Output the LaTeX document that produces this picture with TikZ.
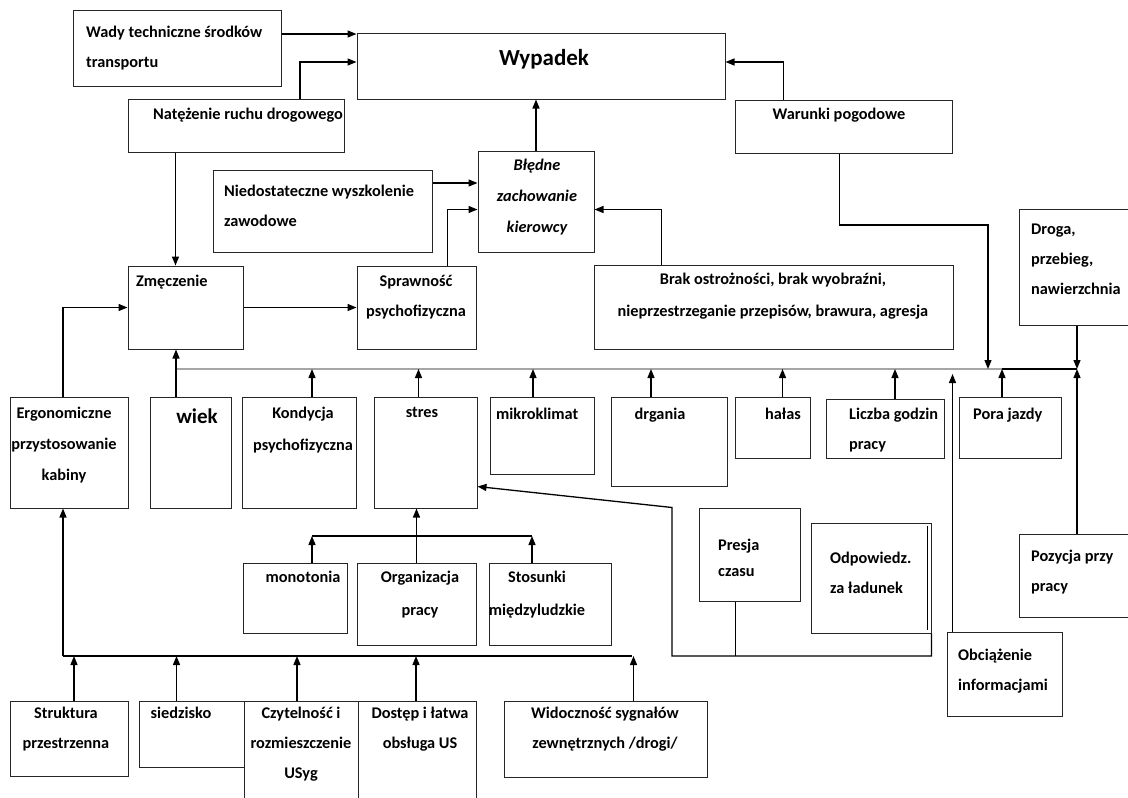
\documentclass[tikz,border=0pt]{standalone}
\usepackage{fontspec}
\setmainfont{Carlito}
\usetikzlibrary{arrows.meta}

\tikzset{
  ->/.style={draw=black,line width=1.3pt,-{Triangle[length=9pt,width=7pt]}},
  box/.style={draw=black!85,line width=1pt},
  bus/.style={draw=black!35,line width=2.2pt},
  link/.style={draw=black,line width=1.1pt}
}
\tikzstyle{every node}=[font=\bfseries\fontsize{16.3}{30}\selectfont,inner sep=0pt]

\begin{document}
\begin{tikzpicture}[x=1pt,y=-1pt]
    \useasboundingbox (0,0) rectangle (1128,798);
    % boxes
    \node[box,minimum width=208pt,minimum height=76pt] (wady) at (177,48) {};
    \node[box,minimum width=368pt,minimum height=66pt] (wypadek) at (541,66) {};
    \node[box,minimum width=216pt,minimum height=53pt] (natez) at (236,125.5) {};
    \node[box,minimum width=217pt,minimum height=53pt] (warunki) at (843.5,126.5) {};
    \node[box,minimum width=219pt,minimum height=82pt] (niedost) at (322.5,211) {};
    \node[box,minimum width=116pt,minimum height=101pt] (bledne) at (536,201.5) {};
    \node[box,minimum width=115pt,minimum height=83pt] (zmecz) at (185.5,307.5) {};
    \node[box,minimum width=119pt,minimum height=83pt] (sprawn) at (416.5,307.5) {};
    \node[box,minimum width=359pt,minimum height=84pt] (brak) at (773.5,307) {};
    \node[box,minimum width=116pt,minimum height=116pt] (droga) at (1077,267) {};
    \node[box,minimum width=118pt,minimum height=111pt] (ergo) at (69,452.5) {};
    \node[box,minimum width=81pt,minimum height=111pt] (wiek) at (190.5,452.5) {};
    \node[box,minimum width=114pt,minimum height=111pt] (kond) at (299,452.5) {};
    \node[box,minimum width=103pt,minimum height=111pt] (stres) at (425.5,452.5) {};
    \node[box,minimum width=104pt,minimum height=77pt] (mikro) at (542,435.5) {};
    \node[box,minimum width=116pt,minimum height=89pt] (drgania) at (669,441.5) {};
    \node[box,minimum width=75pt,minimum height=61pt] (halas) at (772.5,427.5) {};
    \node[box,minimum width=118pt,minimum height=59pt] (liczba) at (885,428.5) {};
    \node[box,minimum width=102pt,minimum height=61pt] (pora) at (1010,427.5) {};
    \node[box,minimum width=101pt,minimum height=93pt] (presja) at (749.5,554.5) {};
    \node[box,minimum width=120pt,minimum height=110pt] (odpow) at (871,578) {};
    \node[box,minimum width=116pt,minimum height=83pt] (pozycja) at (1077,575.5) {};
    \node[box,minimum width=115pt,minimum height=84pt] (obciaz) at (1004.5,674) {};
    \node[box,minimum width=104pt,minimum height=70pt] (monot) at (295,598) {};
    \node[box,minimum width=119pt,minimum height=82pt] (organ) at (416.5,604) {};
    \node[box,minimum width=122pt,minimum height=82pt] (stosun) at (550,604) {};
    \node[box,minimum width=118pt,minimum height=75pt] (strukt) at (69,738.5) {};
    \node[box,minimum width=105pt,minimum height=66pt] (siedz) at (191.5,734) {};
    \node[box,minimum width=114pt,minimum height=109pt] (czyteln) at (301,755.5) {};
    \node[box,minimum width=118pt,minimum height=109pt] (dostep) at (417,755.5) {};
    \node[box,minimum width=203pt,minimum height=76pt] (widocz) at (605.5,739) {};
    \draw[line width=1.4pt] ([xshift=-4pt,yshift=-3pt]odpow.north east) -- ([xshift=-4pt,yshift=4pt]odpow.south east);

    % texts
    \node[anchor=north west,align=left] (wady-t) at (86,26) {Wady techniczne środków\\transportu};
    \node[font=\bfseries\fontsize{23}{28}\selectfont] (wypadek-t) at (544,59) {Wypadek};
    \node[anchor=north] (natez-t) at (248,108) {Natężenie ruchu drogowego};
    \node[anchor=north] (warunki-t) at (839,108) {Warunki pogodowe};
    \node[anchor=north west,align=left] (niedost-t) at (224,185) {Niedostateczne wyszkolenie\\zawodowe};
    \node[anchor=north,align=center,font=\bfseries\itshape\fontsize{16.3}{31}\selectfont] (bledne-t) at (537,159) {Błędne\\zachowanie\\kierowcy};
    \node[anchor=north west] (zmecz-t) at (136,275) {Zmęczenie};
    \node[anchor=north,align=center] (sprawn-t) at (416,275) {Sprawność\\psychofizyczna};
    \node[anchor=north,align=center,font=\bfseries\fontsize{16.3}{32}\selectfont] (brak-t) at (773,273) {Brak ostrożności, brak wyobraźni,\\nieprzestrzeganie przepisów, brawura, agresja};
    \node[anchor=north west,align=left] (droga-t) at (1031,224) {Droga,\\przebieg,\\nawierzchnia};
    \node[anchor=north,align=center,font=\bfseries\fontsize{16.3}{31}\selectfont] (ergo-t) at (64,407) {Ergonomiczne\\przystosowanie\\kabiny};
    \node[anchor=north,font=\bfseries\fontsize{21}{24}\selectfont] (wiek-t) at (197,409) {wiek};
    \node[anchor=north,align=center,font=\bfseries\fontsize{16.3}{32}\selectfont] (kond-t) at (303,407) {Kondycja\\psychofizyczna};
    \node[anchor=north] (stres-t) at (422,407) {stres};
    \node[anchor=north west] (mikro-t) at (496,408) {mikroklimat};
    \node[anchor=north] (drgania-t) at (660,408) {drgania};
    \node[anchor=north] (halas-t) at (783,408) {hałas};
    \node[anchor=north west,align=left] (liczba-t) at (849,408) {Liczba godzin\\pracy};
    \node[anchor=north west] (pora-t) at (973,408) {Pora jazdy};
    \node[anchor=north west,align=left,font=\bfseries\fontsize{16.3}{26}\selectfont] (presja-t) at (718,539) {Presja\\czasu};
    \node[anchor=north west,align=left] (odpow-t) at (830,552) {Odpowiedz.\\za ładunek};
    \node[anchor=north west,align=left] (pozycja-t) at (1031,550) {Pozycja przy\\pracy};
    \node[anchor=north west,align=left] (obciaz-t) at (958,649) {Obciążenie\\informacjami};
    \node[anchor=north] (monot-t) at (303,571) {monotonia};
    \node[anchor=north,align=center,font=\bfseries\fontsize{16.3}{33}\selectfont] (organ-t) at (420,571) {Organizacja\\pracy};
    \node[anchor=north,align=center,font=\bfseries\fontsize{16.3}{33}\selectfont] (stosun-t) at (537,571) {Stosunki\\międzyludzkie};
    \node[anchor=north,align=center] (strukt-t) at (66,707) {Struktura\\przestrzenna};
    \node[anchor=north] (siedz-t) at (181,707) {siedzisko};
    \node[anchor=north,align=center] (czyteln-t) at (301,707) {Czytelność i\\rozmieszczenie\\USyg};
    \node[anchor=north,align=center] (dostep-t) at (420,707) {Dostęp i łatwa\\obsługa US};
    \node[anchor=north,align=center] (widocz-t) at (605,707) {Widoczność sygnałów\\zewnętrznych /drogi/};

    % junction points
    \coordinate (busL) at (176,369);
    \coordinate (busR) at (1002,369);
    \coordinate (busE) at (1077,369);
    \coordinate (wbend) at (988,225);
    \coordinate (brk) at (312,536);
    \coordinate (pbus) at (672,656);
    \coordinate (bbus) at (63,656);
    \coordinate (bbusR) at (632,656);

    % upper part
    \draw [->] ([yshift=14pt]wady.east) -- ([yshift=14pt]wady.east -| wypadek.west);
    \draw [->] ([xshift=64pt]natez.north) |- ([yshift=4pt]wypadek.west);
    \draw [->] ([xshift=-60pt]warunki.north) |- ([yshift=4pt]wypadek.east);
    \draw [->] (bledne.north) -- (bledne.north |- wypadek.south);
    \draw [->] ([yshift=28pt]niedost.east) -- ([yshift=28pt]niedost.east -| bledne.west);
    \draw [->] ([xshift=31pt]sprawn.north) |- ([yshift=-8pt]bledne.west);
    \draw [->] ([xshift=-112pt]brak.north) |- ([yshift=-8pt]bledne.east);
    \draw [->] ([xshift=48pt]natez.south west) -- ([xshift=48pt]zmecz.north west);
    \draw [->] (zmecz.east) -- (sprawn.west);
    \draw [->] ([xshift=-6pt]ergo.north) |- (zmecz.west);

    % factor bus
    \draw [bus] (busL) -- (busR);
    \draw [link] (busR) -- (busE);
    \draw [->] (wiek.north -| busL) -- (zmecz.south -| busL);
    \foreach \b/\dx in {kond/13,stres/-7,mikro/-9,drgania/-18,halas/10,liczba/10,pora/-8}
        \draw [->] ([xshift=\dx pt]\b.north) -- ([xshift=\dx pt]\b.north |- busL);
    \draw [->] ([xshift=-4pt]warunki.south) |- (wbend) -- (wbend |- busL);
    \draw [->] (droga.south) -- (busE);
    \draw [->] (pozycja.north) -- (busE);
    \draw [->,shorten >=5pt] ([xshift=-52pt]obciaz.north) -- ([xshift=-52pt]obciaz.north |- busL);

    % stres
    \draw [->] (organ.north) -- (organ.north |- stres.south);
    \draw [link] (brk) -- ([xshift=-18pt]stosun.north |- brk);
    \draw [->] ([xshift=17pt]monot.north) -- (brk);
    \draw [->] ([xshift=-18pt]stosun.north) -- ([xshift=-18pt]stosun.north |- brk);
    \draw [->] (odpow.south east) |- (pbus) -- (pbus |- presja.north) -- ([yshift=-34pt]stres.east);
    \draw [link] ([xshift=-14pt]presja.south) -- ([xshift=-14pt]presja.south |- pbus);

    % cabin
    \draw [link] (bbus) -- (bbusR);
    \draw [->] (bbus) -- (bbus |- ergo.south);
    \foreach \b/\dx in {strukt/5,siedz/-15,czyteln/-4,dostep/-1,widocz/28}
        \draw [->] ([xshift=\dx pt]\b.north) -- ([xshift=\dx pt]\b.north |- bbus);
\end{tikzpicture}
\end{document}
